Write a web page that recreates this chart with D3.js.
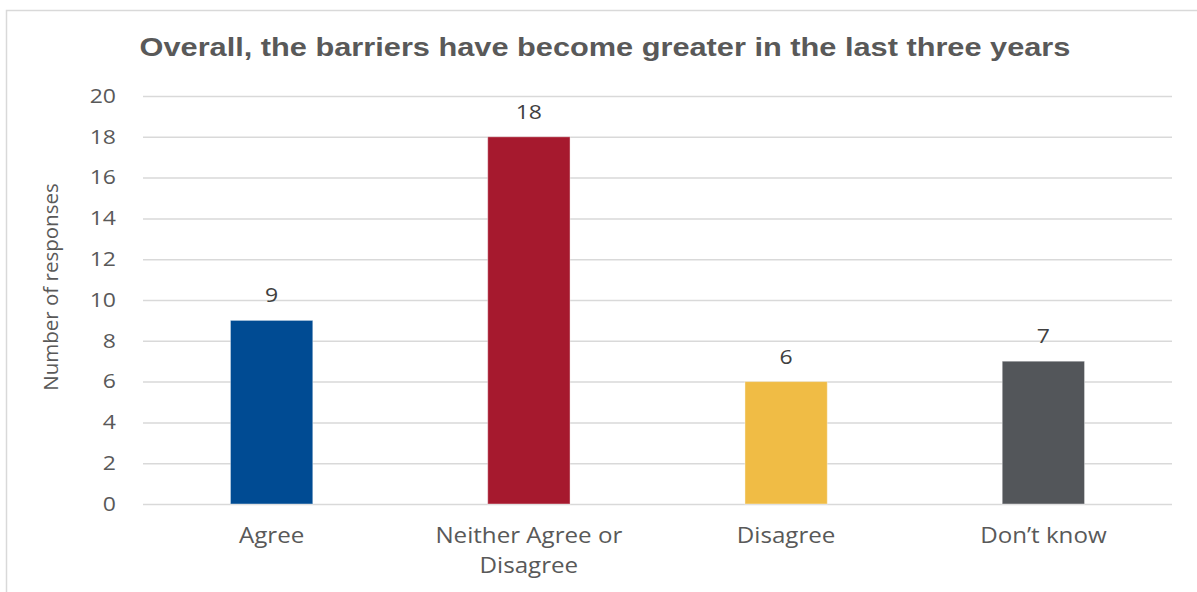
<!DOCTYPE html>
<html><head><meta charset="utf-8">
<script src="https://cdn.jsdelivr.net/npm/d3@7"></script>
<style>body{margin:0;background:#fff}</style>
</head><body>
<svg id="c" width="1197" height="592"></svg>
<script>
const categories = ["Agree", "Neither Agree or Disagree", "Disagree", "Don\u2019t know"];
const values = [9, 18, 6, 7];
const colors = ["#004B93", "#A6192E", "#F0BC45", "#53565A"];
const yTicks = [0, 2, 4, 6, 8, 10, 12, 14, 16, 18, 20];
const title = "Overall, the barriers have become greater in the last three years";
const yLabel = "Number of responses";

const svg = d3.select("#c");
svg.append("rect").attr("x", 6.5).attr("y", 10.5).attr("width", 1200).attr("height", 600)
  .attr("fill", "#fff").attr("stroke", "#d9d9d9").attr("stroke-width", 1.5);

const m = {l: 143, r: 1172, t: 96, b: 504};
const x = d3.scaleBand().domain(categories).range([m.l, m.r]).paddingInner(0.68).paddingOuter(0.34);
const y = d3.scaleLinear().domain([0, 20]).range([m.b, m.t]);

const font = "'Open Sans', sans-serif";
// the reference is slightly stretched horizontally
const stretch = (sx, cx, cy) => `translate(${cx},${cy}) scale(${sx},1) translate(${-cx},${-cy})`;

svg.append("text").attr("x", 605).attr("y", 56).attr("text-anchor", "middle")
  .attr("transform", stretch(1.16, 605, 56))
  .attr("font-family", "'Liberation Sans', Arial, sans-serif").attr("font-weight", "bold")
  .attr("font-size", 26.5).attr("fill", "#595959").text(title);

const ya = svg.append("g").attr("transform", `translate(${m.l},0)`)
  .call(d3.axisLeft(y).tickValues(yTicks).tickSize(-(m.r - m.l)).tickPadding(27));
ya.select(".domain").remove();
ya.selectAll(".tick line").attr("stroke", "#d9d9d9").attr("stroke-width", 1.5);
ya.selectAll(".tick text").attr("font-family", font).attr("font-size", 19.5).attr("fill", "#595959")
  .attr("transform", stretch(1.18, -27, 0));

svg.append("text").attr("transform", `translate(58,287) rotate(-90)`)
  .attr("text-anchor", "middle").attr("font-family", font).attr("font-size", 20.5)
  .attr("fill", "#595959").text(yLabel);

svg.selectAll(".bar").data(categories).enter().append("rect")
  .attr("x", d => x(d)).attr("width", x.bandwidth())
  .attr("y", (d, i) => y(values[i])).attr("height", (d, i) => y(0) - y(values[i]))
  .attr("fill", (d, i) => colors[i]).attr("stroke", "#ffffff").attr("stroke-opacity", 0.4).attr("stroke-width", 1);

svg.selectAll(".val").data(categories).enter().append("text")
  .attr("x", d => x(d) + x.bandwidth() / 2).attr("y", (d, i) => y(values[i]) - 18)
  .attr("transform", (d, i) => stretch(1.15, x(d) + x.bandwidth() / 2, 0))
  .attr("text-anchor", "middle").attr("font-family", font).attr("font-size", 20)
  .attr("fill", "#404040").text((d, i) => values[i]);

const xl = svg.selectAll(".cat").data(categories).enter().append("text")
  .attr("x", d => x(d) + x.bandwidth() / 2).attr("y", 543)
  .attr("transform", d => stretch(1.15, x(d) + x.bandwidth() / 2, 0))
  .attr("text-anchor", "middle").attr("font-family", font).attr("font-size", 21)
  .attr("fill", "#595959");
xl.each(function(d) {
  const t = d3.select(this);
  const lines = d === "Neither Agree or Disagree" ? ["Neither Agree or", "Disagree"] : [d];
  lines.forEach((s, i) => t.append("tspan").attr("x", x(d) + x.bandwidth() / 2).attr("dy", i ? 30 : 0).text(s));
});
</script>
</body></html>
